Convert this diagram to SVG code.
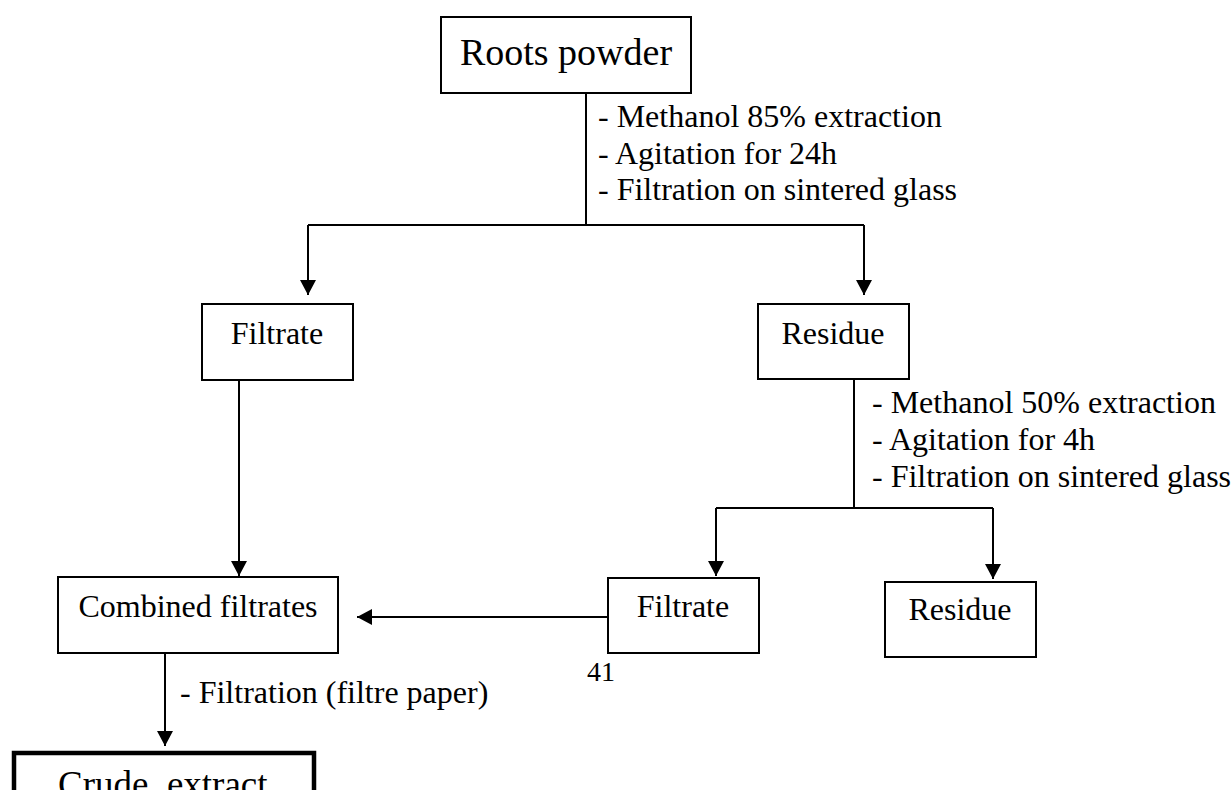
<svg xmlns="http://www.w3.org/2000/svg" width="1232" height="790" viewBox="0 0 1232 790">
<style>
text{font-family:"Liberation Serif","Times New Roman",serif;fill:#000}
.t{font-size:32px}
.c{text-anchor:middle}
.box{fill:#fff;stroke:#000;stroke-width:2}
.bold{fill:#fff;stroke:#000;stroke-width:4.5}
.ln{fill:none;stroke:#000;stroke-width:2}
.arr{fill:none;stroke:#000;stroke-width:2;marker-end:url(#ah)}
</style>
<defs>
<marker id="ah" markerUnits="userSpaceOnUse" markerWidth="16" markerHeight="16" refX="15" refY="8" orient="auto">
<path d="M0,0 L15,8 L0,16 z" fill="#000"/>
</marker>
</defs>
<rect width="1232" height="790" fill="#fff"/>
<g id="connectors">
<line class="ln" x1="586" y1="93" x2="586" y2="225"/>
<line class="ln" x1="308" y1="225" x2="864" y2="225"/>
<line class="arr" x1="308" y1="225" x2="308" y2="295"/>
<line class="arr" x1="864" y1="225" x2="864" y2="295"/>
<line class="arr" x1="239" y1="380" x2="239" y2="576"/>
<line class="ln" x1="854" y1="379" x2="854" y2="508"/>
<line class="ln" x1="716" y1="508" x2="993" y2="508"/>
<line class="arr" x1="716" y1="508" x2="716" y2="576"/>
<line class="arr" x1="993" y1="508" x2="993" y2="579"/>
<line class="arr" x1="608" y1="617" x2="357" y2="617"/>
<line class="arr" x1="165" y1="653" x2="165" y2="746"/>
</g>
<g id="labels">
<text class="t" x="598" y="127">- Methanol 85% extraction</text>
<text class="t" x="598" y="164">- Agitation for 24h</text>
<text class="t" x="598" y="200">- Filtration on sintered glass</text>
<text class="t" x="872" y="413">- Methanol 50% extraction</text>
<text class="t" x="872" y="450">- Agitation for 4h</text>
<text class="t" x="872" y="487">- Filtration on sintered glass</text>
<text class="t" x="180" y="703">- Filtration (filtre paper)</text>
<text x="587" y="681" style="font-size:28px">41</text>
</g>
<g id="roots-powder">
<rect class="box" x="441" y="17" width="250" height="76"/>
<text class="c" x="566" y="65" style="font-size:38px">Roots powder</text>
</g>
<g id="filtrate-1">
<rect class="box" x="202" y="304" width="151" height="76"/>
<text class="t c" x="277" y="344">Filtrate</text>
</g>
<g id="residue-1">
<rect class="box" x="758" y="304" width="151" height="75"/>
<text class="t c" x="833" y="344">Residue</text>
</g>
<g id="combined-filtrates">
<rect class="box" x="58" y="577" width="280" height="76"/>
<text class="t c" x="198" y="617">Combined filtrates</text>
</g>
<g id="filtrate-2">
<rect class="box" x="608" y="578" width="151" height="75"/>
<text class="t c" x="683" y="617">Filtrate</text>
</g>
<g id="residue-2">
<rect class="box" x="885" y="582" width="151" height="75"/>
<text class="t c" x="960" y="620">Residue</text>
</g>
<g id="crude-extract">
<rect class="bold" x="14" y="753" width="300" height="80"/>
<text x="58" y="797" style="font-size:37px" xml:space="preserve">Crude  extract</text>
</g>
</svg>
